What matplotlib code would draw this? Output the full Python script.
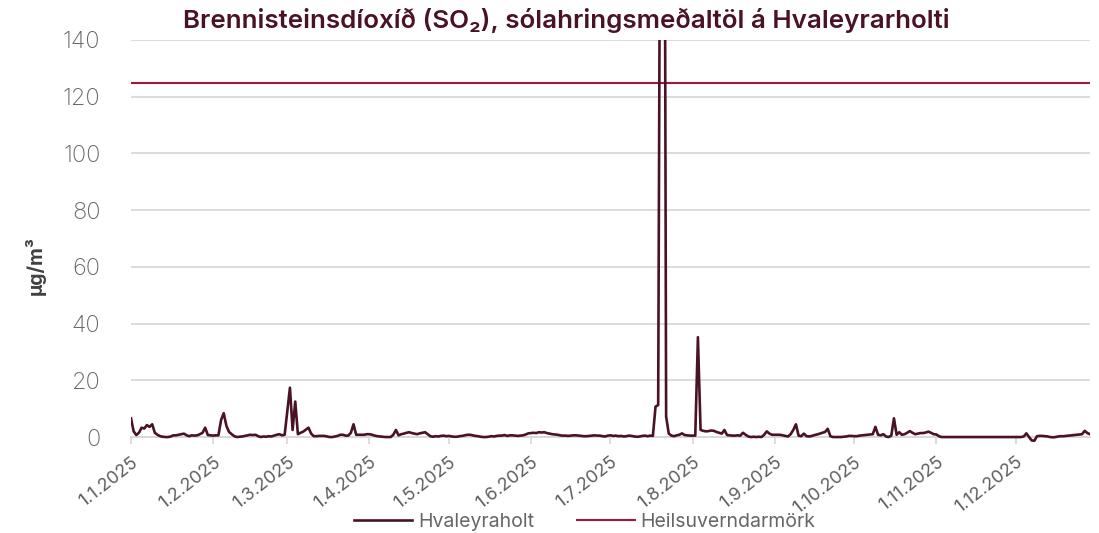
import matplotlib
matplotlib.use("Agg")
import matplotlib.pyplot as plt
import matplotlib.dates as mdates
import pandas as pd

# daily means, 1.1.2025 - 29.12.2025 (µg/m3)
jan = [6.6, 2.0, 0.7, 1.5, 3.3, 3.0, 4.2, 3.6, 4.5, 1.5, 0.8, 0.3, 0.1, 0.0, 0.0, 0.2,
       0.6, 0.6, 0.8, 1.0, 1.2, 0.6, 0.3, 0.6, 0.5, 0.6, 1.0, 1.5, 3.3, 0.7, 0.6]
feb = [0.5, 0.6, 0.6, 6.0, 8.4, 4.0, 1.8, 1.0, 0.3, 0.0, 0.1, 0.2, 0.4, 0.6, 0.8, 0.7,
       0.8, 0.3, 0.0, 0.2, 0.1, 0.3, 0.2, 0.5, 0.8, 1.0, 0.6, 0.8]
mar = [9.0, 17.4, 2.5, 12.5, 1.0, 1.5, 1.9, 2.6, 3.3, 1.2, 0.3, 0.3, 0.4, 0.4, 0.4, 0.2,
       0.0, 0.0, 0.2, 0.4, 0.8, 0.8, 0.5, 0.5, 1.5, 4.5, 0.8, 0.8, 0.8, 0.8, 1.0]
apr = [1.0, 0.8, 0.5, 0.3, 0.2, 0.1, 0.0, 0.0, 0.0, 0.8, 2.5, 0.6, 1.0, 1.2, 1.5, 1.7,
       1.4, 1.2, 1.0, 1.3, 1.5, 1.7, 1.0, 0.3, 0.1, 0.3, 0.2, 0.4, 0.5, 0.3]
may = [0.4, 0.2, 0.1, 0.1, 0.3, 0.4, 0.6, 0.8, 0.8, 0.6, 0.4, 0.3, 0.1, 0.0, 0.0, 0.1,
       0.3, 0.2, 0.4, 0.5, 0.5, 0.7, 0.4, 0.6, 0.6, 0.5, 0.4, 0.5, 0.6, 0.9, 1.3]
jun = [1.4, 1.5, 1.4, 1.7, 1.6, 1.7, 1.4, 1.2, 1.0, 0.9, 0.8, 0.6, 0.5, 0.5, 0.4, 0.5,
       0.6, 0.6, 0.5, 0.4, 0.3, 0.3, 0.4, 0.5, 0.6, 0.5, 0.5, 0.3, 0.2, 0.5]
jul = [0.6, 0.4, 0.5, 0.3, 0.4, 0.2, 0.3, 0.5, 0.4, 0.2, 0.1, 0.2, 0.4, 0.5, 0.3, 0.5,
       0.4, 10.7, 11.3, 270.0, 370.0, 7.2, 1.2, 0.5, 0.3, 0.6, 0.8, 1.3, 0.7, 0.6, 0.5]
aug = [0.5, 0.5, 35.2, 2.5, 2.2, 2.0, 2.1, 2.3, 2.2, 1.8, 1.5, 1.2, 2.5, 0.7, 0.6, 0.5,
       0.5, 0.6, 0.5, 1.5, 0.8, 0.2, 0.0, 0.1, 0.0, 0.1, 0.0, 0.8, 2.0, 1.2, 0.8]
sep = [0.8, 0.8, 0.8, 0.6, 0.4, 0.2, 1.0, 2.5, 4.5, 0.5, 0.3, 1.2, 0.3, 0.2, 0.4, 0.7,
       0.9, 1.2, 1.5, 1.8, 2.9, 0.3, 0.0, 0.0, 0.0, 0.0, 0.1, 0.2, 0.4, 0.4]
okt = [0.3, 0.3, 0.5, 0.6, 0.7, 0.8, 0.9, 1.0, 3.6, 0.8, 0.6, 1.0, 0.2, 0.0, 0.5, 6.6,
       0.8, 1.7, 0.8, 1.0, 1.5, 2.1, 1.5, 1.0, 1.2, 1.4, 1.4, 1.6, 1.9, 1.5, 1.0]
nov = [0.9, 0.3, 0.0, 0.0, 0.0, 0.0, 0.0, 0.0, 0.0, 0.0, 0.0, 0.0, 0.0, 0.0, 0.0, 0.0,
       0.0, 0.0, 0.0, 0.0, 0.0, 0.0, 0.0, 0.0, 0.0, 0.0, 0.0, 0.0, 0.0, 0.0]
des = [0.0, 0.0, 0.0, 0.2, 1.3, 0.0, -1.2, -1.3, 0.3, 0.4, 0.4, 0.3, 0.2, 0.0, -0.1, 0.0,
       0.2, 0.3, 0.3, 0.4, 0.5, 0.6, 0.7, 0.8, 0.9, 1.0, 2.2, 1.4, 1.0]

limit = 125
series_name = "Hvaleyraholt"
limit_name = "Heilsuverndarmörk"
title = "Brennisteinsdíoxíð (SO\u2082), sólahringsmeðaltöl á Hvaleyrarholti"

values = jan + feb + mar + apr + may + jun + jul + aug + sep + okt + nov + des
dates = pd.date_range("2025-01-01", periods=len(values), freq="D")

fam = ["Inter", "DejaVu Sans"]
plt.rcParams["font.family"] = fam
grey = "#666666"
line_col = "#4a1227"
limit_col = "#a3163a"

fig = plt.figure(figsize=(10.99, 5.33), dpi=100)
ax = fig.add_axes([0.1192, 0.1694, 0.8726, 0.7556])

ax.plot(dates, values, color=line_col, lw=1.9, label=series_name, zorder=3)
ax.axhline(limit, color=limit_col, lw=1.5, label=limit_name, zorder=2)

ax.set_ylim(-2, 140)
ax.set_xlim(dates[0], dates[-1])
ax.set_yticks(range(0, 141, 20))
ax.yaxis.grid(True, color="#d9d9d9", lw=1.3)
ax.set_axisbelow(True)

ax.xaxis.set_major_locator(mdates.MonthLocator())
ax.xaxis.set_major_formatter(plt.FuncFormatter(
    lambda v, p: "{d.day}.{d.month}.{d.year}".format(d=mdates.num2date(v))))

for s in ["top", "right", "left"]:
    ax.spines[s].set_visible(False)
ax.spines["bottom"].set_position(("data", 0))
ax.spines["bottom"].set_color("#d9d9d9")
ax.spines["bottom"].set_linewidth(1.3)

ax.tick_params(axis="y", length=0, labelsize=17, labelcolor=grey, pad=22)
ax.tick_params(axis="x", length=5, color="#d9d9d9", width=1.3,
               labelsize=13, labelcolor="#5f5f5f", pad=7)
for lab in ax.get_xticklabels():
    lab.set_rotation(38)
    lab.set_ha("right")
    lab.set_rotation_mode("anchor")
for lab in ax.get_yticklabels():
    lab.set_fontweight("light")

ax.set_ylabel("µg/m³", fontsize=14, fontweight="bold", color="#404040")
ax.yaxis.set_label_coords(-0.089, 0.44)

fig.text(0.515, 0.962, title, ha="center", va="center", fontsize=18.7,
         fontweight="semibold", color="#4a1227", family=fam)

fig.legend(loc="center", bbox_to_anchor=(0.532, 0.021), ncol=2, frameon=False,
           fontsize=14, handlelength=3.0, columnspacing=2.2, handletextpad=0.3,
           labelcolor=grey)

fig.savefig("out.png", dpi=100)
